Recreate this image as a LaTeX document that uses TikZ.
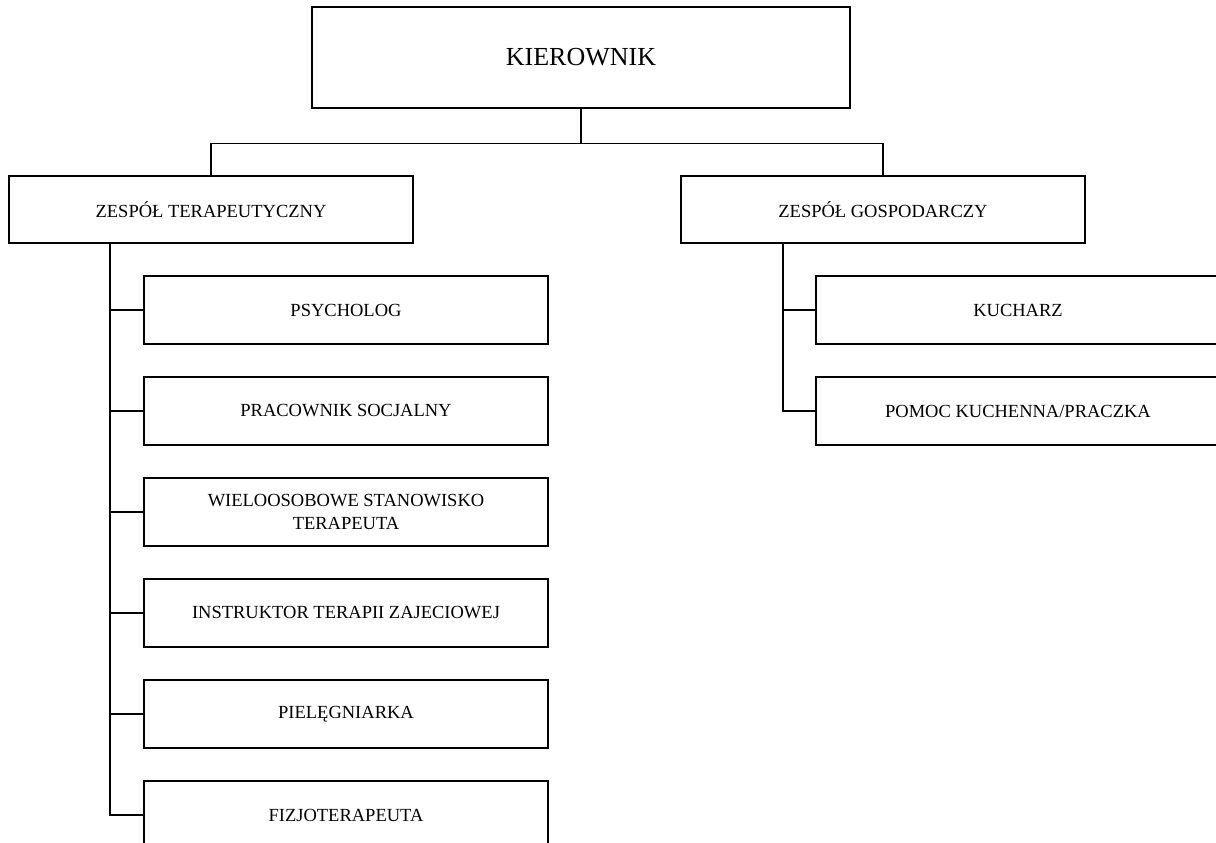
\documentclass[tikz,border=0pt]{standalone}
\usepackage{fontspec}
\setmainfont{Liberation Serif}
\usetikzlibrary{positioning}

\begin{document}
\begin{tikzpicture}[x=1pt,y=-1pt,line width=1.3pt,
  unitbox/.style={draw,line width=1.3pt,inner sep=0pt,align=center,
    minimum width=404pt,minimum height=67pt,
    font=\fontsize{18.5}{23}\selectfont},
  headbox/.style={unitbox,minimum width=538pt,minimum height=101pt,
    font=\fontsize{26}{30}\selectfont}]
\clip (0,0) rectangle (1216,843);

\node[headbox] (kier) at (581,57.5) {KIEROWNIK};
\node[unitbox] (terap) at (211,209.5) {ZESPÓŁ TERAPEUTYCZNY};
\node[unitbox] (gosp) at (883,209.5) {ZESPÓŁ GOSPODARCZY};

\node[unitbox,minimum height=68pt] (psych) at (346,310) {PSYCHOLOG};
\node[unitbox,minimum height=68pt] (socj) at (346,411) {PRACOWNIK SOCJALNY};
\node[unitbox,minimum height=68pt] (wielo) at (346,512) {WIELOOSOBOWE STANOWISKO\\TERAPEUTA};
\node[unitbox,minimum height=68pt] (instr) at (346,613) {INSTRUKTOR TERAPII ZAJECIOWEJ};
\node[unitbox,minimum height=68pt] (piel) at (346,714) {PIELĘGNIARKA};
\node[unitbox,minimum height=68pt] (fizjo) at (346,815) {FIZJOTERAPEUTA};

\node[unitbox,minimum height=68pt] (kuch) at (1018,310) {KUCHARZ};
\node[unitbox,minimum height=68pt] (pomoc) at (1018,411) {POMOC KUCHENNA/PRACZKA};

\coordinate (lspine) at (110,243);
\coordinate (rspine) at (783,243);

\draw (kier.south) -- ++(0,35) -| (terap.north);
\draw (kier.south) -- ++(0,35) -| (gosp.north);

\draw (lspine) |- (fizjo.west);
\draw (lspine |- psych) -- (psych.west);
\draw (lspine |- socj) -- (socj.west);
\draw (lspine |- wielo) -- (wielo.west);
\draw (lspine |- instr) -- (instr.west);
\draw (lspine |- piel) -- (piel.west);

\draw (rspine) |- (pomoc.west);
\draw (rspine |- kuch) -- (kuch.west);
\end{tikzpicture}
\end{document}
